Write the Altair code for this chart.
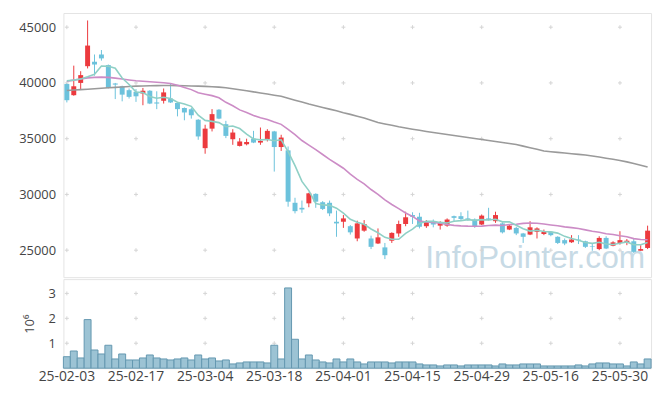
import altair as alt
import pandas as pd

dates = [
    "25-02-03", "25-02-04", "25-02-05", "25-02-06", "25-02-07", "25-02-10", "25-02-11", "25-02-12", "25-02-13", "25-02-14",
    "25-02-17", "25-02-18", "25-02-19", "25-02-20", "25-02-21", "25-02-24", "25-02-25", "25-02-26", "25-02-27", "25-02-28",
    "25-03-04", "25-03-05", "25-03-06", "25-03-07", "25-03-10", "25-03-11", "25-03-12", "25-03-13", "25-03-14", "25-03-17",
    "25-03-18", "25-03-19", "25-03-20", "25-03-21", "25-03-24", "25-03-25", "25-03-26", "25-03-27", "25-03-28", "25-03-31",
    "25-04-01", "25-04-02", "25-04-03", "25-04-04", "25-04-07", "25-04-08", "25-04-09", "25-04-10", "25-04-11", "25-04-14",
    "25-04-15", "25-04-16", "25-04-17", "25-04-18", "25-04-21", "25-04-22", "25-04-23", "25-04-24", "25-04-25", "25-04-28",
    "25-04-29", "25-04-30", "25-05-02", "25-05-07", "25-05-08", "25-05-09", "25-05-12", "25-05-13", "25-05-14", "25-05-15",
    "25-05-16", "25-05-19", "25-05-20", "25-05-21", "25-05-22", "25-05-23", "25-05-26", "25-05-27", "25-05-28", "25-05-29",
    "25-05-30", "25-06-02", "25-06-04", "25-06-05", "25-06-09",
]

opens = [
    39900, 38900, 40000, 41500, 41900, 42550, 41600, 39950, 39700, 39350,
    39200, 39050, 39300, 38250, 38400, 38600, 38200, 37750, 37650, 36700,
    34150, 35900, 37600, 36300, 34950, 34350, 34500, 35000, 34650, 34950,
    35650, 34250, 33950, 29250, 28800, 29200, 30050, 29300, 29250, 27550,
    27550, 27150, 26050, 26750, 26050, 25600, 25250, 25850, 26500, 27350,
    28150, 28000, 27150, 27500, 27200, 27200, 28050, 28050, 27850, 27750,
    27300, 27850, 27600, 27400, 26850, 27000, 26500, 26400, 26650, 26450,
    26650, 26200, 25900, 25700, 25950, 25800, 25350, 25100, 26100, 25400,
    25650, 25650, 25800, 24950, 25200,
]
highs = [
    39950, 41550, 41050, 45600, 42550, 42950, 41650, 40000, 39750, 39500,
    39450, 39550, 39350, 39250, 39500, 39950, 38250, 37800, 37750, 36750,
    36250, 37650, 37650, 36600, 35850, 35050, 35000, 35700, 36000, 35850,
    35700, 35350, 34300, 29700, 29450, 30150, 30100, 29400, 29450, 28550,
    28150, 27250, 27650, 27700, 26300, 26950, 25650, 26600, 27650, 28450,
    28400, 28350, 27700, 27750, 27600, 27850, 28100, 28400, 28550, 27850,
    28200, 28800, 28450, 27500, 27300, 27100, 26550, 27600, 27050, 26850,
    26700, 26250, 26050, 26350, 26350, 25850, 25550, 26250, 26250, 25800,
    26700, 26000, 26050, 25450, 27200,
]
lows = [
    38250, 38850, 39450, 41300, 40650, 42000, 39500, 38550, 38350, 38600,
    38300, 38000, 38100, 37650, 38150, 38200, 37000, 36650, 36800, 34900,
    33650, 35650, 36750, 35050, 34450, 34300, 34400, 34600, 34450, 34750,
    32050, 33900, 28900, 28300, 28350, 28850, 28800, 28600, 28050, 26200,
    27000, 26400, 25800, 26650, 25100, 25550, 24200, 25650, 26200, 27150,
    27350, 26950, 27000, 27050, 26850, 27100, 27600, 27650, 27650, 27000,
    27250, 27650, 27450, 26500, 26800, 26350, 25650, 26350, 26050, 26350,
    26250, 25550, 25450, 25650, 25550, 25200, 24950, 25000, 25100, 25350,
    25500, 25450, 24750, 24950, 25100,
]
closes = [
    38450, 39700, 40700, 43350, 41650, 42200, 39550, 39850, 38950, 38750,
    38800, 39300, 38150, 38150, 39150, 38250, 37650, 37350, 37100, 35200,
    35900, 37200, 36800, 35250, 35550, 34750, 34700, 34650, 34800, 35700,
    34250, 35100, 29350, 28500, 28650, 30100, 29350, 28700, 28300, 27400,
    27850, 26600, 27400, 27350, 25300, 26150, 24550, 26550, 27350, 27950,
    28000, 27100, 27550, 27300, 27500, 27750, 27900, 27800, 27750, 27150,
    28100, 27700, 28150, 26600, 27200, 26500, 26200, 27050, 26950, 26650,
    26350, 25650, 25600, 25950, 25900, 25300, 25300, 26100, 25150, 25700,
    25900, 25850, 24850, 25100, 26750,
]
# volume in millions of shares
volumes_m = [
    0.46, 0.69, 0.41, 1.95, 0.73, 0.57, 0.92, 0.37, 0.57, 0.33,
    0.33, 0.41, 0.53, 0.41, 0.37, 0.33, 0.37, 0.41, 0.33, 0.53,
    0.37, 0.41, 0.29, 0.33, 0.17, 0.21, 0.25, 0.25, 0.25, 0.21,
    0.92, 0.37, 3.22, 1.16, 0.37, 0.53, 0.33, 0.25, 0.21, 0.37,
    0.25, 0.37, 0.25, 0.17, 0.25, 0.25, 0.25, 0.21, 0.25, 0.25,
    0.25, 0.17, 0.13, 0.13, 0.09, 0.13, 0.13, 0.09, 0.13, 0.13,
    0.13, 0.13, 0.09, 0.17, 0.13, 0.13, 0.17, 0.17, 0.17, 0.09,
    0.09, 0.09, 0.09, 0.09, 0.13, 0.09, 0.17, 0.21, 0.21, 0.17,
    0.17, 0.09, 0.25, 0.17, 0.37,
]
# moving-average values at the start of the window
ma5_lead = [40200, 40250, 40350, 40550]
ma20_lead = [40150, 40250, 40350, 40450, 40500, 40520, 40500, 40430, 40350, 40270,
             40200, 40150, 40100, 40060, 40020, 39950, 39800, 39600, 39400]
# long moving average (grey line)
ma_long = [
    39320, 39360, 39400, 39440, 39480, 39520, 39560, 39600, 39640, 39680,
    39710, 39730, 39750, 39760, 39770, 39770, 39760, 39750, 39730, 39710,
    39690, 39660, 39620, 39570, 39480, 39380, 39290, 39200, 39100, 39000,
    38900, 38800, 38620, 38450, 38280, 38100, 37950, 37800, 37650, 37500,
    37330, 37180, 37020, 36850, 36650, 36450, 36320, 36200, 36070, 35960,
    35850, 35750, 35650, 35550, 35460, 35370, 35280, 35190, 35100, 35010,
    34920, 34830, 34740, 34650, 34560, 34470, 34330, 34190, 34050, 33900,
    33830, 33770, 33710, 33650, 33590, 33530, 33450, 33350, 33250, 33150,
    33050, 32920, 32780, 32620, 32450,
]

price_ticks = [25000, 30000, 35000, 40000, 45000]
vol_ticks = [1, 2, 3]
x_ticks = dates[::10]

n = len(dates)
df = pd.DataFrame({
    "i": list(range(n)),
    "date": dates,
    "open": opens,
    "high": highs,
    "low": lows,
    "close": closes,
    "vol": volumes_m,
    "ma_long": ma_long,
    "ma5_lead": ma5_lead + [None] * (n - len(ma5_lead)),
    "ma20_lead": ma20_lead + [None] * (n - len(ma20_lead)),
})
df["dir"] = ["up" if c >= o else "down" for o, c in zip(opens, closes)]

FONT = "Open Sans"
RED = "#ec3a3e"
BLUE = "#6cc2dc"
TEAL = "#8fd0c6"
PINK = "#cc8cc6"
GREY = "#9a9a9a"
GRIDC = "#d4d4d4"

color = alt.Color("dir:N", scale=alt.Scale(domain=["up", "down"], range=[RED, BLUE]), legend=None)
xs = alt.Scale(type="band", domain=dates, paddingInner=0, paddingOuter=0)
x_up = alt.X("date:N", scale=xs, axis=None)
ys = alt.Scale(domain=[22580, 46270], nice=False, zero=False)
y_axis = alt.Axis(values=price_ticks, format="d", grid=False, ticks=False, domain=False,
                  labelFontSize=13, labelPadding=8, title=None)

base = alt.Chart(df)

wm = alt.Chart(pd.DataFrame({"t": ["InfoPointer.com"]})).mark_text(
    align="right", baseline="alphabetic", fontSize=32, font="Liberation Sans", color="#c7dae5"
).encode(x=alt.value(588), y=alt.value(258), text="t:N")

grid_up = pd.DataFrame([(d, p) for d in x_ticks for p in price_ticks], columns=["date", "price"])
cross_up = alt.Chart(grid_up).mark_point(
    shape="M-1,0L1,0M0,-1L0,1", size=16, filled=False, color=GRIDC, strokeWidth=1, opacity=1
).encode(x=x_up, y=alt.Y("price:Q", scale=ys, axis=y_axis))

wick = base.mark_rule(strokeWidth=1).encode(
    x=x_up, y=alt.Y("low:Q", scale=ys, axis=y_axis), y2="high:Q", color=color)
body = base.mark_bar(size=5).encode(
    x=x_up, y=alt.Y("open:Q", scale=ys), y2="close:Q", color=color)

line_long = base.mark_line(color=GREY, strokeWidth=1.6).encode(
    x=x_up, y=alt.Y("ma_long:Q", scale=ys), order="i:Q")
line20 = base.transform_window(
    ma20w="mean(close)", frame=[-19, 0], sort=[alt.SortField("i")]
).transform_calculate(
    ma20="datum.i < 19 ? datum.ma20_lead : datum.ma20w"
).mark_line(color=PINK, strokeWidth=1.6).encode(
    x=x_up, y=alt.Y("ma20:Q", scale=ys), order="i:Q")
line5 = base.transform_window(
    ma5w="mean(close)", frame=[-4, 0], sort=[alt.SortField("i")]
).transform_calculate(
    ma5="datum.i < 4 ? datum.ma5_lead : datum.ma5w"
).mark_line(color=TEAL, strokeWidth=1.6).encode(
    x=x_up, y=alt.Y("ma5:Q", scale=ys), order="i:Q")

upper = alt.layer(wm, cross_up, wick, body, line_long, line20, line5).properties(width=594, height=267)

vs = alt.Scale(domain=[0, 3.573], nice=False, zero=True)
x_low = alt.X("date:N", scale=xs, axis=alt.Axis(values=x_ticks, labelAngle=0, ticks=False, domain=False,
                                                  labelFontSize=14, labelPadding=1, title=None, grid=False))
v_axis = alt.Axis(values=vol_ticks, grid=False, ticks=False, domain=False, labelFontSize=13, labelPadding=8,
                  title="10⁶", titleFontSize=13, titleFontWeight="normal", titlePadding=12)

grid_low = pd.DataFrame([(d, v) for d in x_ticks for v in vol_ticks], columns=["date", "v"])
cross_low = alt.Chart(grid_low).mark_point(
    shape="M-1,0L1,0M0,-1L0,1", size=16, filled=False, color=GRIDC, strokeWidth=1, opacity=1
).encode(x=x_low, y=alt.Y("v:Q", scale=vs, axis=v_axis))
vol = base.mark_bar(color="#9cc3d4", stroke="#6498b0", strokeWidth=1).encode(
    x=x_low, y=alt.Y("vol:Q", scale=vs, axis=v_axis))

lower = alt.layer(cross_low, vol).properties(width=594, height=90)

chart = alt.vconcat(upper, lower, spacing=0).properties(
    padding={"left": 10, "top": 2, "right": 5, "bottom": 5}
).configure_view(stroke="#e4e4e4").configure_axis(
    labelFont=FONT, titleFont=FONT, labelColor="#444444", titleColor="#444444"
)

chart.save("out.html", embed_options={"renderer": "svg", "actions": False})
